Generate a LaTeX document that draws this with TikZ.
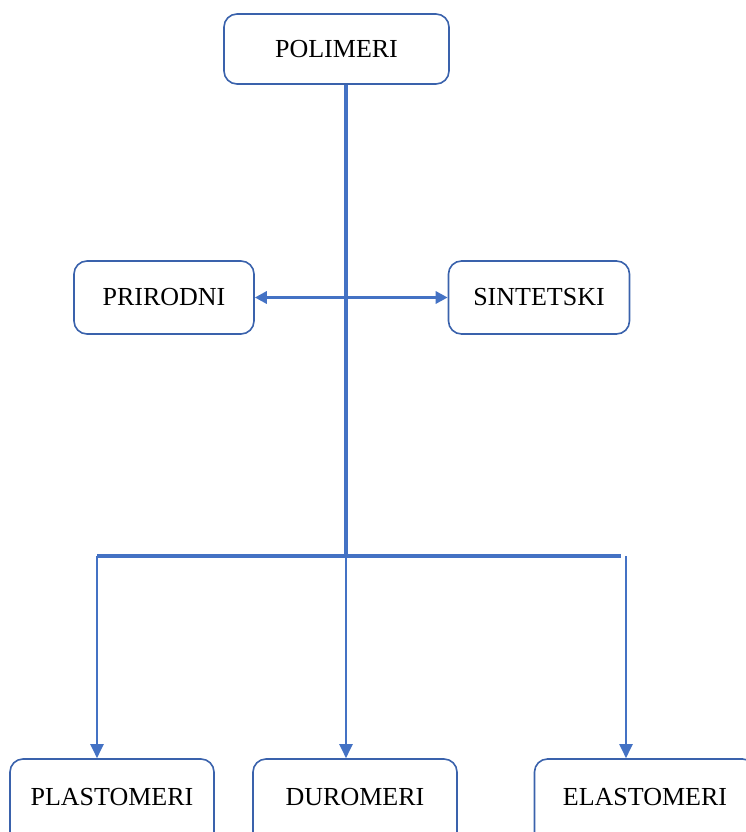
\documentclass[tikz,border=0pt]{standalone}
\usepackage{fontspec}
\setmainfont{Liberation Serif}
\usepackage{tikz}
\usetikzlibrary{calc, arrows.meta}

\definecolor{linkblue}{HTML}{4472C4}
\definecolor{edgeblue}{HTML}{3A62AC}

\begin{document}
\begin{tikzpicture}[x=1pt, y=-1pt]

        % Box and line looks
        \tikzset{
            klasa/.style={draw=edgeblue, line width=1.6pt, rounded corners=13pt,
                fill=white, inner sep=0pt,
                font=\fontsize{26}{30}\selectfont},
            donja/.style={klasa, text height=46pt, text depth=46pt},
            deblja/.style={draw=linkblue, line width=4pt},
            tanja/.style={draw=linkblue, line width=2pt,
                -{Triangle[length=14pt, width=13pt]}}
        }

        % Fixes the page to the size of the picture
        \useasboundingbox (0, 0) rectangle (745, 832);

        % Boxes, top to bottom
        \node[klasa, minimum width=225pt, minimum height=70pt]
            (pol) at (336.5, 49) {POLIMERI};

        \node[klasa, minimum width=180pt, minimum height=73pt]
            (pri) at (164, 297.5) {PRIRODNI};
        \node[klasa, minimum width=181pt, minimum height=73pt]
            (sin) at (539, 297.5) {SINTETSKI};

        % The lower boxes run past the bottom edge
        \node[donja, minimum width=204pt] (pla) at (112, 805) {PLASTOMERI};
        \node[donja, minimum width=204pt] (dur) at (355, 805) {DUROMERI};
        \node[donja, minimum width=221pt] (ela) at (645, 805) {ELASTOMERI};

        % Points of the branching bar
        \coordinate (trunk) at (346, 555.5);
        \coordinate (barL) at (97, 555.5);
        \coordinate (barR) at (620.5, 555.5);
        \coordinate (barE) at (626, 556);

        % Thick trunk and bar
        \begin{scope}[deblja]
            \draw (trunk |- pol.south) -- (trunk);
            \draw (barL) -- (barR);
        \end{scope}

        % Side arrow
        \draw[draw=linkblue, line width=3pt,
            {Triangle[length=12pt, width=12pt]}-{Triangle[length=12pt, width=12pt]}]
            (pri.east) -- (sin.west);

        % Arrows down to the boxes
        \begin{scope}
            \draw[tanja] (barL) -- (barL |- pla.north);
            \draw[tanja] (trunk) -- (trunk |- dur.north);
            \draw[tanja] (barE) -- (barE |- ela.north);
        \end{scope}

\end{tikzpicture}
\end{document}
